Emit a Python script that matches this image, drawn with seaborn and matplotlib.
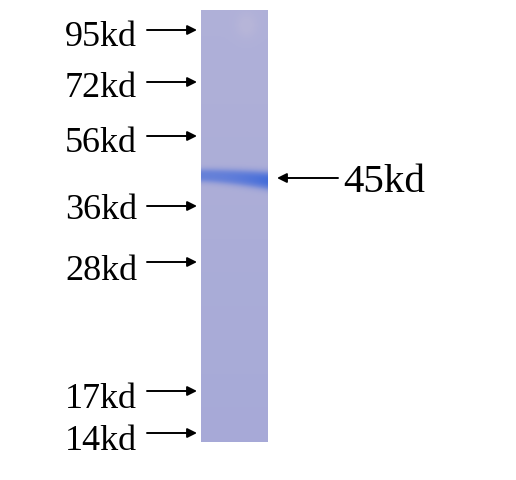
import numpy as np
import matplotlib
matplotlib.use("Agg")
import matplotlib.pyplot as plt
from matplotlib.colors import LinearSegmentedColormap
import seaborn as sns

# ---- data ----
marker_labels = ["95kd", "72kd", "56kd", "36kd", "28kd", "17kd", "14kd"]
marker_rows = [30, 82, 136, 206, 262, 391, 433]        # migration (pixel row) of each marker
label_baselines = [46, 97, 152, 219, 280, 408, 450]
band_label = "45kd"
band_row = 178                                        # migration of the detected band

sns.set_theme(style="white")
plt.rcParams["font.family"] = ["Liberation Serif", "DejaVu Serif"]

W, H = 516, 480
fig = plt.figure(figsize=(W / 100, H / 100), dpi=100)
fig.patch.set_facecolor("white")

# main overlay axes in pixel coordinates
ax = fig.add_axes([0, 0, 1, 1])
ax.set_xlim(0, W)
ax.set_ylim(H, 0)
ax.axis("off")

# ---- lane (rendered as a heatmap) ----
lane_l, lane_r, lane_t, lane_b = 201, 268, 10, 442
nr, nc = lane_b - lane_t, lane_r - lane_l
yy, xx = np.mgrid[0:nr, 0:nc]
yabs = yy + lane_t
xf = xx / (nc - 1)
bg = 0.04 + 0.05 * (yy / nr)
centre = band_row - 3 + 5 * xf ** 1.5
amp = 0.50 + 0.30 * xf ** 2
sig = 5.0 + 1.5 * xf
band = amp * np.exp(-0.5 * (np.abs(yabs - centre) / sig) ** 2.6)
# faint light smudge near top right
smudge = -0.05 * np.exp(-(((yabs - 25) / 12) ** 2 + ((xx - 45) / 10) ** 2))
intensity = np.clip(bg + band + smudge, 0, 1)

cmap = LinearSegmentedColormap.from_list(
    "lane", [(0.0, "#B6B5D8"), (0.09, "#A6A9D7"), (0.45, "#7288D8"), (1.0, "#3563DA")]
)
lax = fig.add_axes([lane_l / W, 1 - lane_b / H, nc / W, nr / H])
sns.heatmap(intensity, ax=lax, cmap=cmap, vmin=0, vmax=1, cbar=False,
            xticklabels=False, yticklabels=False, rasterized=True)
lax.axis("off")

# ---- marker labels and arrows ----
for lab, row, base in zip(marker_labels, marker_rows, label_baselines):
    ax.text(65, base, lab, fontsize=26, ha="left", va="baseline", color="black")
    ax.annotate("", xy=(197, row), xytext=(147, row),
                arrowprops=dict(arrowstyle="-|>", lw=1.4, color="black",
                                mutation_scale=14, shrinkA=0, shrinkB=0))

# ---- band label ----
ax.annotate("", xy=(277, band_row), xytext=(338, band_row),
            arrowprops=dict(arrowstyle="-|>", lw=1.4, color="black",
                            mutation_scale=14, shrinkA=0, shrinkB=0))
ax.text(343, band_row + 14, band_label, fontsize=29.5, ha="left", va="baseline", color="black")

fig.savefig("out.png", dpi=100, facecolor="white")
